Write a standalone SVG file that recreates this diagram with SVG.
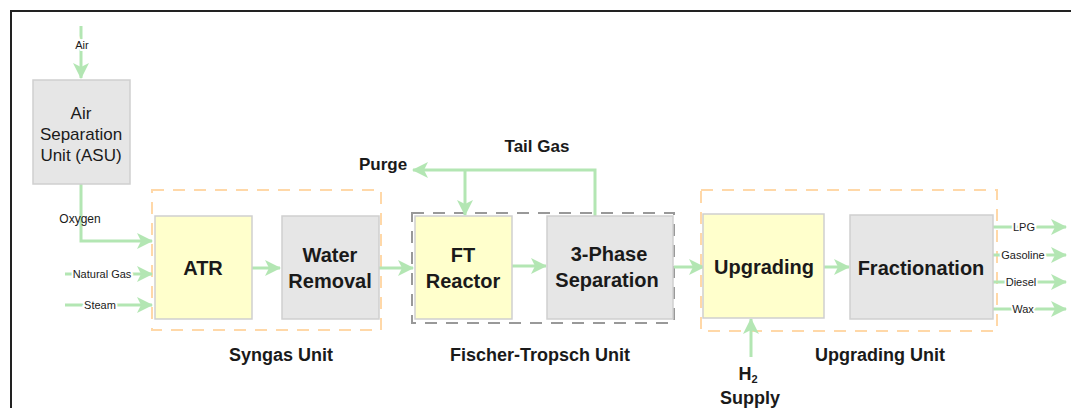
<svg xmlns="http://www.w3.org/2000/svg" width="1071" height="408" viewBox="0 0 1071 408">
<defs>
<marker id="ah" markerUnits="userSpaceOnUse" markerWidth="16" markerHeight="16" viewBox="0 0 16 16" refX="15" refY="8" orient="auto">
<path d="M0,0 L16,8 L0,16 L4,8 z" fill="#b3e6b3"/>
</marker>
<style>
.frame{fill:none;stroke:#222;stroke-width:2}
.gray{fill:#e6e6e6;stroke:#cfcfcf;stroke-width:1.5}
.yel{fill:#ffffcc;stroke:#cfcfcf;stroke-width:1.5}
.og{fill:none;stroke:#ffd8a8;stroke-width:2;stroke-dasharray:12,9}
.gg{fill:none;stroke:#999;stroke-width:2;stroke-dasharray:12,9}
.ca{fill:none;stroke:#b3e6b3;stroke-width:3;marker-end:url(#ah)}
.t{font-family:"Liberation Sans",Arial,sans-serif;fill:#1a1a1a;text-anchor:middle}
.nb{font-size:20px;font-weight:bold}
.nr{font-size:17px}
.lb{font-size:18px;font-weight:bold}
.lb2{font-size:17px;font-weight:bold}
.sm{font-size:11px;paint-order:stroke;stroke:#fff;stroke-width:4px}
</style>
</defs>
<path class="frame" d="M11,420 L11,11 L1080,11"/>

<g id="groups">
<rect id="syngas-unit" class="og" x="152" y="190" width="229" height="140"/>
<rect id="ft-unit" class="gg" x="412" y="213" width="262" height="110"/>
<rect id="upgrading-unit" class="og" x="701" y="190" width="296" height="141"/>
</g>

<g id="connectors">
<line class="ca" x1="81" y1="26" x2="81" y2="78"/>
<path class="ca" d="M81,184 L81,241 L152,241"/>
<line class="ca" x1="65" y1="274" x2="152" y2="274"/>
<line class="ca" x1="65" y1="305" x2="152" y2="305"/>
<line class="ca" x1="252" y1="268" x2="280" y2="268"/>
<line class="ca" x1="379" y1="268" x2="413" y2="268"/>
<line class="ca" x1="512" y1="266" x2="546" y2="266"/>
<path class="ca" d="M595,216 L595,170 L413,170"/>
<path class="ca" d="M465,170 L465,215"/>
<line class="ca" x1="674" y1="267" x2="704" y2="267"/>
<line class="ca" x1="824" y1="267" x2="849" y2="267"/>
<line class="ca" x1="751" y1="357" x2="751" y2="319"/>
<line class="ca" x1="993" y1="227" x2="1066" y2="227"/>
<line class="ca" x1="993" y1="255" x2="1066" y2="255"/>
<line class="ca" x1="993" y1="282" x2="1066" y2="282"/>
<line class="ca" x1="993" y1="309" x2="1066" y2="309"/>
<text class="t sm" x="82" y="49">Air</text>
<text class="t sm" x="80" y="223" style="stroke:none;font-size:12px">Oxygen</text>
<text class="t sm" x="102" y="278">Natural Gas</text>
<text class="t sm" x="100" y="309">Steam</text>
<text class="t sm" x="1024" y="231">LPG</text>
<text class="t sm" x="1023" y="259">Gasoline</text>
<text class="t sm" x="1021" y="286">Diesel</text>
<text class="t sm" x="1023" y="313">Wax</text>
<text class="t lb2" x="383" y="170">Purge</text>
<text class="t lb2" x="537" y="152">Tail Gas</text>
</g>

<g id="asu">
<rect class="gray" x="33" y="80" width="97" height="104"/>
<text class="t nr" x="81" y="119">Air</text>
<text class="t nr" x="81" y="140">Separation</text>
<text class="t nr" x="81" y="161">Unit (ASU)</text>
</g>
<g id="atr">
<rect class="yel" x="155" y="216" width="97" height="103"/>
<text class="t nb" x="203" y="275">ATR</text>
</g>
<g id="water-removal">
<rect class="gray" x="282" y="216" width="97" height="103"/>
<text class="t nb" x="330" y="262">Water</text>
<text class="t nb" x="330" y="288">Removal</text>
</g>
<g id="ft-reactor">
<rect class="yel" x="415" y="216" width="97" height="103"/>
<text class="t nb" x="463" y="262">FT</text>
<text class="t nb" x="463" y="288">Reactor</text>
</g>
<g id="three-phase">
<rect class="gray" x="547" y="216" width="126" height="103"/>
<text class="t nb" x="609" y="261">3-Phase</text>
<text class="t nb" x="607" y="287">Separation</text>
</g>
<g id="upgrading">
<rect class="yel" x="703" y="214" width="121" height="104"/>
<text class="t nb" x="764" y="274">Upgrading</text>
</g>
<g id="fractionation">
<rect class="gray" x="850" y="215" width="143" height="104"/>
<text class="t nb" x="921" y="275">Fractionation</text>
</g>

<g id="labels">
<text class="t lb" x="281" y="361">Syngas Unit</text>
<text class="t lb" x="540" y="361">Fischer-Tropsch Unit</text>
<text class="t lb" x="880" y="361">Upgrading Unit</text>
<text class="t lb" x="748" y="380">H<tspan font-size="11" dy="3">2</tspan></text>
<text class="t lb" x="750" y="404">Supply</text>
</g>
</svg>
